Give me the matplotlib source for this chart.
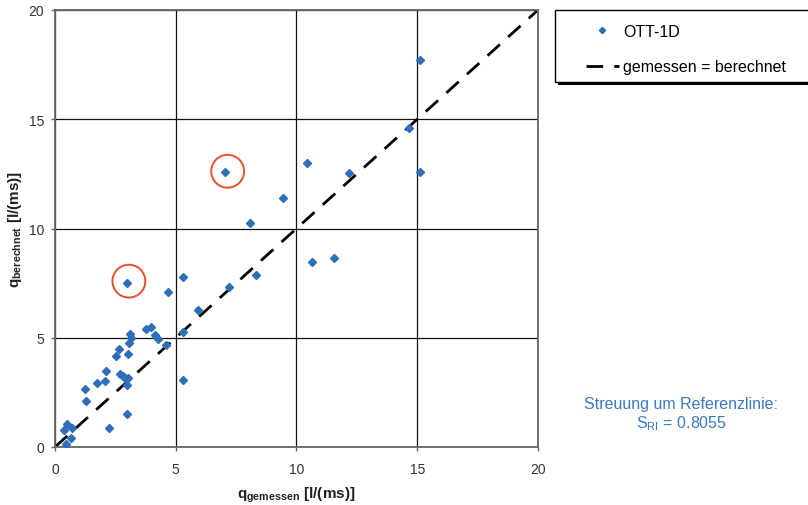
import matplotlib
matplotlib.use('Agg')
import matplotlib.pyplot as plt
from matplotlib.patches import Rectangle

plt.rcParams['font.family'] = ['Liberation Sans', 'DejaVu Sans']
plt.rcParams['mathtext.fontset'] = 'custom'
plt.rcParams['mathtext.rm'] = 'Liberation Sans'
plt.rcParams['mathtext.bf'] = 'Liberation Sans:bold'

# measured vs. calculated discharge [l/(ms)]
q_gemessen = [5.91, 5.31, 5.31, 3.77, 3.96, 3.11, 3.15, 4.14, 4.28, 4.58, 3.06, 2.66,
              2.54, 3.01, 2.10, 1.73, 2.06, 2.69, 2.80, 2.90, 3.01, 2.98, 1.25, 1.28,
              2.99, 2.22, 0.48, 0.39, 0.72, 0.67, 0.44, 7.04, 10.45, 12.17, 15.13, 9.43,
              8.07, 10.65, 11.55, 8.34, 7.19, 5.29, 4.68, 2.97, 15.10, 14.66]
q_berechnet = [6.28, 5.25, 3.08, 5.40, 5.48, 5.17, 4.99, 5.14, 4.93, 4.67, 4.75, 4.50,
               4.16, 4.24, 3.46, 2.94, 3.02, 3.35, 3.26, 3.17, 3.14, 2.84, 2.64, 2.11,
               1.50, 0.86, 1.04, 0.78, 0.87, 0.43, 0.15, 12.57, 12.98, 12.55, 12.59, 11.41,
               10.24, 8.47, 8.65, 7.87, 7.32, 7.79, 7.11, 7.50, 17.71, 14.59]

# circled outliers
circle_x = [7.15, 3.06]
circle_y = [12.62, 7.59]

ref_line = [0, 20]
ticks = [0, 5, 10, 15, 20]
s_ri = 0.8055

blue = '#2F6EBA'
W, H = 808, 506

fig = plt.figure(figsize=(W / 100, H / 100), dpi=100)
ax = fig.add_axes([55 / W, 1 - 448 / H, 483 / W, 437 / H])

ax.plot(ref_line, ref_line, color='black', lw=2, dashes=(6, 4), zorder=2,
        label='gemessen = berechnet')
ax.plot(q_gemessen, q_berechnet, 'D', color=blue, ms=4.0, mec=blue, zorder=3,
        label='OTT-1D')
ax.scatter(circle_x, circle_y, s=560, facecolors='none', edgecolors='#E8502A',
           linewidths=1.4, zorder=4)

ax.set_xlim(0, 20)
ax.set_ylim(0, 20)
ax.set_xticks(ticks)
ax.set_yticks(ticks)
ax.grid(True, color='#111111', lw=0.9, zorder=0)
ax.set_axisbelow(True)
for sp in ax.spines.values():
    sp.set_color('#666666')
    sp.set_linewidth(1.3)
ax.tick_params(direction='out', length=3, color='#666666', width=1,
               labelsize=10, labelcolor='#333333')
ax.tick_params(axis='x', pad=7.5)
ax.tick_params(axis='y', pad=5)

ax.set_xlabel(r'q$_{\mathbf{gemessen}}$ [l/(ms)]', fontsize=11, fontweight='bold',
              color='#222222', labelpad=6)
ax.set_ylabel(r'q$_{\mathbf{berechnet}}$ [l/(ms)]', fontsize=11, fontweight='bold',
              color='#222222', labelpad=3)

# legend box with shadow, drawn by hand so it can run off the right edge
fig.add_artist(Rectangle((558 / W, 1 - 86 / H), 270 / W, 72 / H, transform=fig.transFigure,
                         facecolor='black', edgecolor='none', zorder=5))
fig.add_artist(Rectangle((555 / W, 1 - 83 / H), 270 / W, 72 / H, transform=fig.transFigure,
                         facecolor='white', edgecolor='black', lw=1, zorder=6))

h, l = ax.get_legend_handles_labels()
leg = fig.legend([h[1], h[0]], [l[1], l[0]], loc='upper left',
                 bbox_to_anchor=(576 / W, 1 - 15 / H), borderaxespad=0, fontsize=11.5,
                 handlelength=2.1, handletextpad=0.25, labelspacing=1.3, borderpad=0.6,
                 markerscale=0.8, frameon=False)
leg.set_zorder(7)

fig.text(681 / W, 1 - 405 / H, 'Streuung um Referenzlinie:', ha='center',
         va='center', fontsize=11.5, color='#3D78C2')
fig.text(681 / W, 1 - 424 / H, r'S$_{\mathrm{RI}}$ = ' + f'{s_ri:.4f}',
         ha='center', va='center', fontsize=11.5, color='#3D78C2')

plt.savefig('out.png', dpi=100)
